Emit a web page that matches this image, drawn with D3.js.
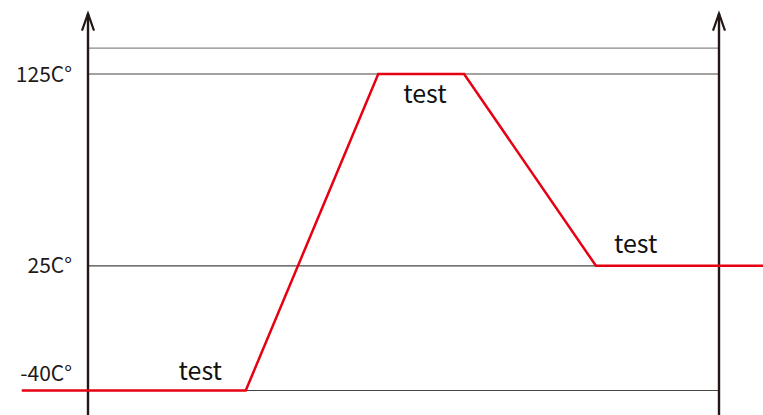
<!DOCTYPE html>
<html>
<head>
    <meta charset='utf-8'>
    <title> Temperature Profile </title>
    <script src='https://d3js.org/d3.v7.min.js'></script>
    <style>
      body { margin: 0; background: #fff; }
      text { font-family: "Noto Sans CJK SC", "Noto Sans", sans-serif; }
    </style>
</head>
<body>

<div id="container"></div>

<script>

const width = 763,
      height = 415;

// profile: time (arbitrary units, left axis = 0, right axis = 100) vs temperature
var profileTime = [-10.5, 25, 46, 59.6, 80.5, 107];
var profileTemp = [-40, -40, 125, 125, 25, 25];

// horizontal reference lines
var gridTemps = [138.5, 125, 25, -40];
var tickTemps = [125, 25, -40];
var tickLabels = ["125C°", "25C°", "-40C°"];

// "test" notes on each plateau
var noteText = ["test", "test", "test"];
var noteTime = [17.8, 53.4, 86.8];
var noteTemp = [-34.5, 110, 31.8];

var x = d3.scaleLinear()
    .domain([0, 100])
    .range([88, 719]);

var y = d3.scaleLinear()
    .domain([-40, 125])
    .range([390.5, 74]);

var svg = d3.select("#container")
    .append("svg")
    .attr("width", width)
    .attr("height", height)
    .style("display", "block");

// grid lines
svg.selectAll(".grid")
    .data(gridTemps)
    .enter()
    .append("line")
    .attr("class", "grid")
    .attr("x1", x(0))
    .attr("x2", x(100))
    .attr("y1", function(d) { return y(d); })
    .attr("y2", function(d) { return y(d); })
    .attr("stroke", function(d, i) { return i == 0 ? "#8a8a8a" : "#4a4443"; })
    .attr("stroke-width", 1.2);

// tick labels
svg.selectAll(".tick-label")
    .data(tickTemps)
    .enter()
    .append("text")
    .attr("class", "tick-label")
    .attr("x", 72)
    .attr("y", function(d, i) { return i == tickTemps.length - 1 ? y(d) - 9.5 : y(d) + 7.5; })
    .attr("text-anchor", "end")
    .style("font-size", "21px")
    .style("fill", "#231815")
    .text(function(d, i) { return tickLabels[i]; });

// the two vertical axes with arrow heads
var topTemp = 156.5;
[0, 100].forEach(function(t) {
  svg.append("line")
      .attr("x1", x(t)).attr("x2", x(t))
      .attr("y1", y(topTemp)).attr("y2", height)
      .attr("stroke", "#231815")
      .attr("stroke-width", 2.4);
  svg.append("path")
      .attr("d", `M${x(t) - 6},${y(topTemp) + 17} L${x(t)},${y(topTemp)} L${x(t) + 6},${y(topTemp) + 17}`)
      .attr("fill", "none")
      .attr("stroke", "#231815")
      .attr("stroke-width", 2.2);
});

// temperature profile
var line = d3.line()
    .x(function(d) { return x(d[0]); })
    .y(function(d) { return y(d[1]); });

svg.append("path")
    .datum(d3.zip(profileTime, profileTemp))
    .attr("d", line)
    .attr("fill", "none")
    .attr("stroke", "#e60012")
    .attr("stroke-width", 2.5);

// notes
svg.selectAll(".note")
    .data(noteText)
    .enter()
    .append("text")
    .attr("class", "note")
    .attr("x", function(d, i) { return x(noteTime[i]); })
    .attr("y", function(d, i) { return y(noteTemp[i]); })
    .attr("text-anchor", "middle")
    .style("font-size", "25px")
    .style("fill", "#111")
    .text(function(d) { return d; });

</script>

</body>
</html>
